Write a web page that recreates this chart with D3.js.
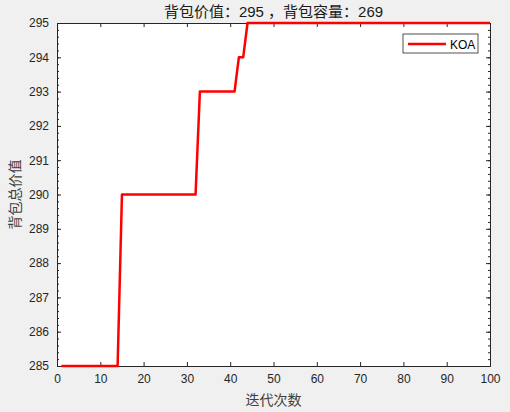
<!DOCTYPE html>
<html>
<head>
<meta charset="utf-8">
<script src="https://cdn.jsdelivr.net/npm/d3@7"></script>
<style>
body{margin:0;background:#f0f0f0;}
text{font-family:"Liberation Sans",Arial,sans-serif;}
</style>
</head>
<body>
<div id="chart"></div>
<script>
// iterations 1..100, best knapsack value per iteration
var iters = d3.range(1, 101);
var values = [
 285,285,285,285,285,285,285,285,285,285,285,285,285,285,
 290,290,290,290,290,290,290,290,290,290,290,290,290,290,290,290,290,290,
 293,293,293,293,293,293,293,293,293,
 294,294,
 295,295,295,295,295,295,295,295,295,295,295,295,295,295,295,295,295,295,295,295,
 295,295,295,295,295,295,295,295,295,295,295,295,295,295,295,295,295,295,295,295,
 295,295,295,295,295,295,295,295,295,295,295,295,295,295,295,295,295
];
var xTicks = d3.range(0, 101, 10);
var yTicks = d3.range(285, 296, 1);
var seriesName = "KOA";
var titleText = "背包价值：295 ，背包容量：269";
var xLabel = "迭代次数";
var yLabel = "背包总价值";

var W = 510, H = 412;
var margin = {top:23, left:57, right:20, bottom:46};
var width = W - margin.left - margin.right,
    height = H - margin.top - margin.bottom;

var svg = d3.select("#chart").append("svg")
  .attr("width", W).attr("height", H);

var g = svg.append("g")
  .attr("transform", "translate(" + margin.left + "," + margin.top + ")");

var x = d3.scaleLinear().domain([0, 100]).range([0, width]);
var y = d3.scaleLinear().domain([285, 295]).range([height, 0]);

g.append("rect").attr("width", width).attr("height", height).attr("fill", "#fff");

var axisColor = "#262626";
var minorY = d3.range(285, 295.001, 0.2);

function styleAxis(sel){
  sel.selectAll("path.domain").attr("stroke", axisColor);
  sel.selectAll(".tick line").attr("stroke", axisColor);
  sel.selectAll(".tick text").attr("fill", axisColor).style("font-size", "12px");
}

// bottom
g.append("g").attr("transform", "translate(0," + height + ")")
  .call(d3.axisBottom(x).tickValues(xTicks).tickSize(-4).tickSizeOuter(0).tickPadding(8))
  .call(styleAxis);
// top
g.append("g")
  .call(d3.axisTop(x).tickValues(xTicks).tickSize(-4).tickSizeOuter(0).tickFormat(""))
  .call(styleAxis);
// left
g.append("g")
  .call(d3.axisLeft(y).tickValues(yTicks).tickSize(-4).tickSizeOuter(0).tickPadding(8).tickFormat(d3.format("d")))
  .call(styleAxis);
g.append("g")
  .call(d3.axisLeft(y).tickValues(minorY).tickSize(-2).tickSizeOuter(0).tickFormat(""))
  .call(styleAxis);
// right
g.append("g").attr("transform", "translate(" + width + ",0)")
  .call(d3.axisRight(y).tickValues(yTicks).tickSize(-4).tickSizeOuter(0).tickFormat(""))
  .call(styleAxis);
g.append("g").attr("transform", "translate(" + width + ",0)")
  .call(d3.axisRight(y).tickValues(minorY).tickSize(-2).tickSizeOuter(0).tickFormat(""))
  .call(styleAxis);

var line = d3.line()
  .x(function(d, i){ return x(iters[i]); })
  .y(function(d){ return y(d); });

g.append("path").datum(values)
  .attr("d", line)
  .attr("fill", "none")
  .attr("stroke", "#ff0000")
  .attr("stroke-width", 2.5)
  .attr("stroke-linejoin", "round");

// legend
var lg = g.append("g").attr("transform", "translate(" + (width - 87) + ",11)");
lg.append("rect").attr("width", 75).attr("height", 19)
  .attr("fill", "#fff").attr("stroke", axisColor).attr("stroke-width", 0.8);
lg.append("line").attr("x1", 5).attr("x2", 43).attr("y1", 10).attr("y2", 10)
  .attr("stroke", "#ff0000").attr("stroke-width", 2.5);
lg.append("text").attr("x", 47).attr("y", 14.5).text(seriesName)
  .style("font-size", "12px").attr("fill", "#000");

// title & labels
svg.append("text").attr("x", margin.left + width / 2).attr("y", 17)
  .attr("text-anchor", "middle").attr("fill", "#1a1a1a")
  .style("font-family", "'Liberation Sans','Noto Sans CJK SC',sans-serif")
  .style("font-weight", "normal")
  .style("font-size", "15px").text(titleText);

svg.append("text").attr("x", margin.left + width / 2).attr("y", 405)
  .attr("text-anchor", "middle").attr("fill", "#404040")
  .style("font-family", "'Noto Sans CJK SC',sans-serif")
  .style("font-size", "14px").text(xLabel);

svg.append("text")
  .attr("transform", "translate(20," + (margin.top + height / 2) + ") rotate(-90)")
  .attr("text-anchor", "middle").attr("fill", "#404040")
  .style("font-family", "'Noto Sans CJK SC',sans-serif")
  .style("font-size", "14px").text(yLabel);
</script>
</body>
</html>
